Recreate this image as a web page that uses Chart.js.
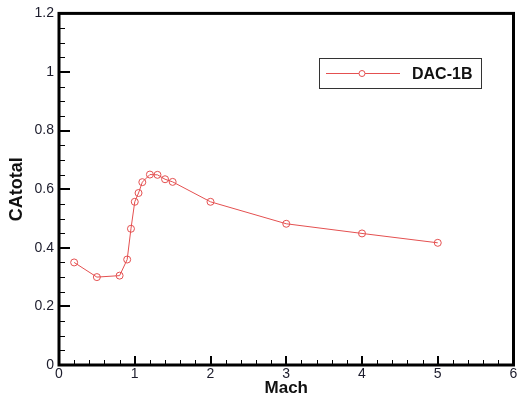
<!DOCTYPE html>
<html>
<head>
<meta charset="utf-8">
<script src="https://cdn.jsdelivr.net/npm/chart.js@4"></script>
<style>
  html, body { margin: 0; padding: 0; background: #fff; }
  #wrap { width: 518px; height: 399px; }
</style>
</head>
<body>
<div id="wrap"><canvas id="grafico"></canvas></div>
<script>
const machValues = [0.2, 0.5, 0.8, 0.9, 0.95, 1.0, 1.05, 1.1, 1.2, 1.3, 1.4, 1.5, 2, 3, 4, 5];
const caTotal = [0.35, 0.30, 0.305, 0.36, 0.465, 0.557, 0.587, 0.624, 0.65, 0.649, 0.634, 0.625, 0.557, 0.482, 0.449, 0.417];
const serieLabel = "DAC-1B";
const xTitle = "Mach";
const yTitle = "CAtotal";

const lineColor = "rgb(228, 80, 80)";
const fuente = "'Liberation Sans', Arial, sans-serif";

// marco negro + ticks hacia adentro + leyenda dentro del grafico
const framePlugin = {
  id: "frame",
  afterDraw(chart) {
    const ctx = chart.ctx;
    const a = chart.chartArea;
    const xs = chart.scales.x;
    const ys = chart.scales.y;
    ctx.save();
    ctx.strokeStyle = "#000";

    // ticks menores
    ctx.lineWidth = 1;
    ctx.beginPath();
    for (let v = 0; v <= 6.0001; v += 0.2) {
      const px = Math.round(xs.getPixelForValue(v)) + 0.5;
      ctx.moveTo(px, a.bottom);
      ctx.lineTo(px, a.bottom - 5);
    }
    for (let v = 0; v <= 1.2001; v += 0.05) {
      const py = Math.round(ys.getPixelForValue(v)) + 0.5;
      ctx.moveTo(a.left, py);
      ctx.lineTo(a.left + 6, py);
    }
    ctx.stroke();

    // ticks mayores
    ctx.lineWidth = 2;
    ctx.beginPath();
    xs.ticks.forEach((t) => {
      const px = Math.round(xs.getPixelForValue(t.value));
      ctx.moveTo(px, a.bottom);
      ctx.lineTo(px, a.bottom - 9);
    });
    ys.ticks.forEach((t) => {
      const py = Math.round(ys.getPixelForValue(t.value));
      ctx.moveTo(a.left, py);
      ctx.lineTo(a.left + 11, py);
    });
    ctx.stroke();

    // marco
    ctx.lineWidth = 3;
    ctx.strokeRect(a.left, a.top, a.right - a.left, a.bottom - a.top);

    // leyenda
    const ds = chart.data.datasets[0];
    const bx = 319, by = 58, bw = 162, bh = 30;
    ctx.lineWidth = 1;
    ctx.strokeStyle = "#333";
    ctx.strokeRect(bx + 0.5, by + 0.5, bw, bh);
    const ly = by + bh / 2 + 0.5;
    ctx.strokeStyle = ds.borderColor;
    ctx.beginPath();
    ctx.moveTo(bx + 7, ly);
    ctx.lineTo(bx + 81, ly);
    ctx.stroke();
    ctx.fillStyle = "#fff";
    ctx.beginPath();
    ctx.arc(bx + 43, ly, 3, 0, Math.PI * 2);
    ctx.fill();
    ctx.stroke();
    ctx.fillStyle = "#111";
    ctx.font = "bold 16px " + fuente;
    ctx.textBaseline = "middle";
    ctx.fillText(ds.label, bx + 93, ly + 1);
    ctx.restore();
  },
};

const ctx1 = document.getElementById("grafico");

new Chart(ctx1, {
  type: "scatter",
  data: {
    datasets: [
      {
        label: serieLabel,
        data: machValues.map((m, i) => ({ x: m, y: caTotal[i] })),
        showLine: true,
        borderColor: lineColor,
        borderWidth: 1,
        pointBorderColor: lineColor,
        pointBackgroundColor: "rgba(255,255,255,0)",
        pointBorderWidth: 1,
        pointRadius: 3.5,
        pointHoverRadius: 3.5,
      },
    ],
  },
  options: {
    responsive: true,
    maintainAspectRatio: false,
    animation: false,
    events: [],
    layout: { padding: { top: 6, right: 3, bottom: 0, left: 0 } },
    plugins: {
      legend: { display: false },
      tooltip: { enabled: false },
    },
    scales: {
      x: {
        type: "linear",
        min: 0,
        max: 6,
        border: { display: false },
        grid: { display: false, drawTicks: false },
        afterFit(scale) {
          scale.height = 34;
          scale.paddingRight = 0;
        },
        ticks: {
          stepSize: 1,
          padding: 1,
          color: "#1c1c2c",
          font: { family: fuente, size: 14 },
        },
        title: {
          display: true,
          text: xTitle,
          color: "#111",
          padding: { top: 0, bottom: 0 },
          font: { family: fuente, size: 17, weight: "bold" },
        },
      },
      y: {
        type: "linear",
        min: 0,
        max: 1.2,
        border: { display: false },
        grid: { display: false, drawTicks: false },
        afterFit(scale) {
          scale.width = 59;
        },
        ticks: {
          stepSize: 0.2,
          padding: 5,
          color: "#1c1c2c",
          font: { family: fuente, size: 14 },
          callback: (v) => String(Number(v.toFixed(1))),
        },
        title: {
          display: true,
          text: yTitle,
          color: "#111",
          padding: { top: 6, bottom: 0 },
          font: { family: fuente, size: 18, weight: "bold" },
        },
      },
    },
  },
  plugins: [framePlugin],
});
</script>
</body>
</html>
